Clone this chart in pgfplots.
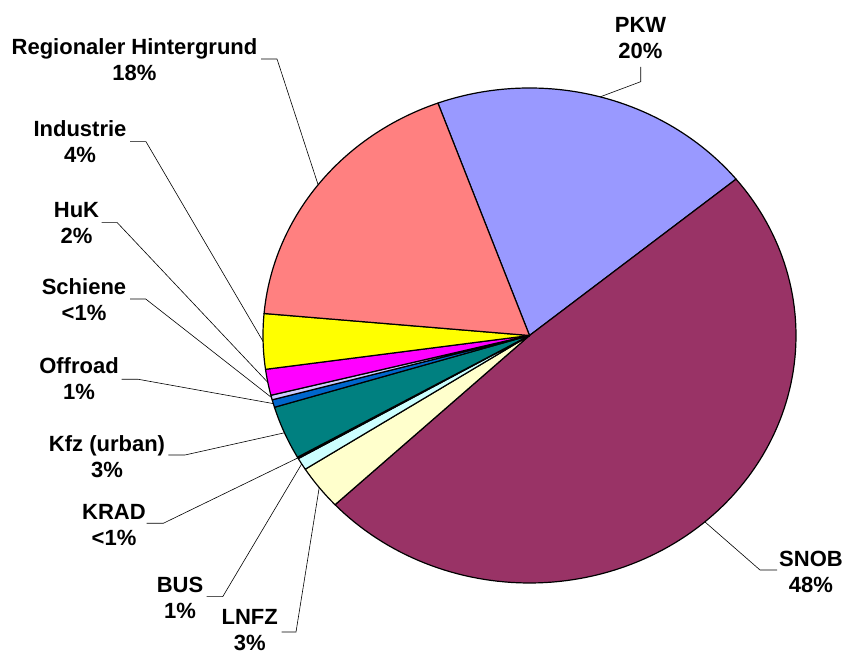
\documentclass[border=0pt]{standalone}
\usepackage{fontspec}
\setmainfont{Liberation Sans}
\usepackage{pgfplots}
\usepackage{pgfplotstable}
\pgfplotsset{compat=1.18}
\definecolor{cPKW}{HTML}{9999FF}
\definecolor{cSNOB}{HTML}{993366}
\definecolor{cLNFZ}{HTML}{FFFFCC}
\definecolor{cBUS}{HTML}{CCFFFF}
\definecolor{cKRAD}{HTML}{660066}
\definecolor{cKfz}{HTML}{008080}
\definecolor{cOff}{HTML}{0066CC}
\definecolor{cSch}{HTML}{CCCCFF}
\definecolor{cHuK}{HTML}{FF00FF}
\definecolor{cInd}{HTML}{FFFF00}
\definecolor{cReg}{HTML}{FF8080}
% shares in percent, clockwise starting with PKW
\pgfplotstableread{
value color
19.7 cPKW
48.9 cSNOB
2.9 cLNFZ
0.8 cBUS
0.1 cKRAD
3.5 cKfz
0.5 cOff
0.3 cSch
1.7 cHuK
3.6 cInd
18.0 cReg
}\piedata
\begin{document}
\begin{tikzpicture}
\begin{axis}[scale only axis, width=845pt, height=655pt,
  xmin=0, xmax=845, ymin=0, ymax=655, hide axis, clip=false]
\path (rel axis cs:0,0) rectangle (rel axis cs:1,1);
\def\cum{0}
\pgfplotsforeachungrouped \i in {0,...,10}{%
  \pgfplotstablegetelem{\i}{value}\of\piedata \let\sliceval=\pgfplotsretval
  \pgfplotstablegetelem{\i}{color}\of\piedata \let\slicecol=\pgfplotsretval
  \pgfmathsetmacro\aStart{110.1-3.6*\cum}%
  \pgfmathsetmacro\cum{\cum+\sliceval}%
  \pgfmathsetmacro\aEnd{110.1-3.6*\cum}%
  \edef\doplot{\noexpand\addplot[fill=\slicecol, draw=black, line width=1.2pt, line join=round,
     domain=\aEnd:\aStart, samples=120, variable=\noexpand\t]
     ({529.5+266.5*cos(\noexpand\t)},{319.5+247.5*sin(\noexpand\t)}) -- (axis cs:529.5,319.5) -- cycle;}%
  \doplot
}
% leader lines
\begin{scope}[line width=0.6pt]
\draw (axis cs:261,596) -- (axis cs:277,596) -- (axis cs:318.1,470.2);
\draw (axis cs:130,513.3) -- (axis cs:146,513.3) -- (axis cs:263.1,313.5);
\draw (axis cs:101.7,432.3) -- (axis cs:117.3,432.3) -- (axis cs:267.8,272.6);
\draw (axis cs:130,356) -- (axis cs:145.7,356) -- (axis cs:271.5,257.5);
\draw (axis cs:121.7,275.7) -- (axis cs:138.3,275.7) -- (axis cs:273.3,251.4);
\draw (axis cs:168.3,200) -- (axis cs:185,200) -- (axis cs:284.5,222.2);
\draw (axis cs:146.7,131.7) -- (axis cs:163.3,131.7) -- (axis cs:297.9,197.1);
\draw (axis cs:206.7,58.3) -- (axis cs:222.7,58.3) -- (axis cs:301.7,191.1);
\draw (axis cs:281.7,23) -- (axis cs:296,23) -- (axis cs:319.2,167.4);
\draw (axis cs:640.7,588) -- (axis cs:640.7,573.3) -- (axis cs:600.1,558.1);
\draw (axis cs:777,85) -- (axis cs:760,85) -- (axis cs:704.9,133.1);
\end{scope}
% labels
\begin{scope}[every node/.style={align=center, inner sep=0pt, font=\fontsize{22}{26}\selectfont\bfseries}]
\node at (axis cs:134.5,595) {Regionaler Hintergrund\\18\%};
\node at (axis cs:80,513.5) {Industrie\\4\%};
\node at (axis cs:76.5,431.7) {HuK\\2\%};
\node at (axis cs:84,355.3) {Schiene\\<1\%};
\node at (axis cs:79,276.2) {Offroad\\1\%};
\node at (axis cs:107,198.3) {Kfz (urban)\\3\%};
\node at (axis cs:114,130) {KRAD\\<1\%};
\node at (axis cs:180,56.7) {BUS\\1\%};
\node at (axis cs:249.7,24.5) {LNFZ\\3\%};
\node at (axis cs:640.5,616.7) {PKW\\20\%};
\node at (axis cs:811,83.3) {SNOB\\48\%};
\end{scope}
\end{axis}
\end{tikzpicture}
\end{document}
